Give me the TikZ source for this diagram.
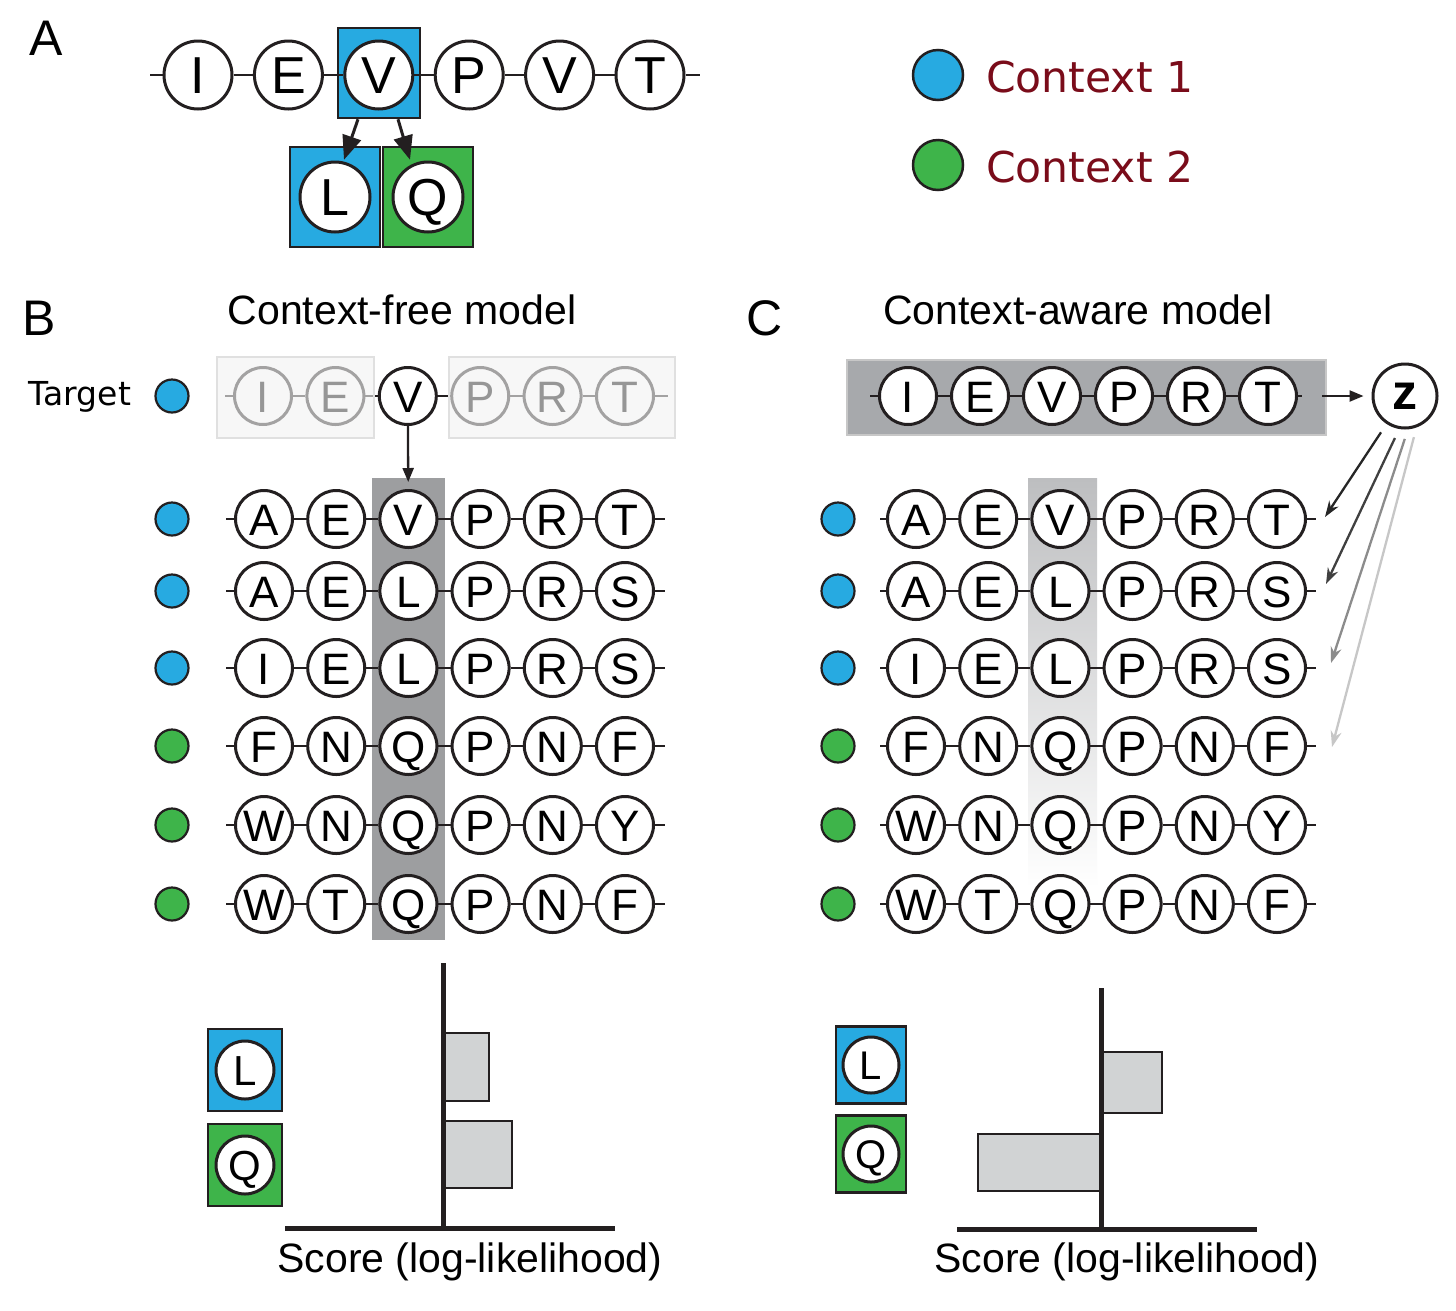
\documentclass[tikz,border=0pt]{standalone}
\usepackage{fontspec}
\setmainfont{Liberation Sans}
\newfontfamily\dvs{DejaVu Sans}
\usetikzlibrary{arrows.meta,calc}
\definecolor{cblue}{RGB}{39,170,225}
\definecolor{cgreen}{RGB}{62,180,74}
\definecolor{cred}{RGB}{122,12,26}
\definecolor{ink}{RGB}{35,31,32}
\definecolor{colB}{RGB}{157,158,160}
\definecolor{colC}{RGB}{189,190,192}
\definecolor{boxC}{RGB}{167,169,172}
\definecolor{barfill}{RGB}{209,211,212}
\definecolor{fadebox}{RGB}{243,243,243}
\tikzset{
  aa/.style={circle, draw=ink, line width=3pt, fill=white, minimum size=57pt, inner sep=0pt,
    font=\fontsize{44}{44}\selectfont, text height=32pt, text depth=0pt},
  aabig/.style={aa, minimum size=68pt, font=\fontsize{52}{52}\selectfont, text height=37pt},
  aabox/.style={aa, minimum size=70pt, font=\fontsize{52}{52}\selectfont, text height=37pt},
  aasmall/.style={aa, minimum size=58pt, font=\fontsize{42}{42}\selectfont, text height=30pt},
  chainln/.style={draw=ink, line width=2.8pt},
  dotb/.style={circle, draw=ink, line width=2.2pt, fill=cblue, minimum size=33pt, inner sep=0pt},
  dotg/.style={circle, draw=ink, line width=2.2pt, fill=cgreen, minimum size=33pt, inner sep=0pt},
  legdot/.style={circle, draw=ink, line width=2.5pt, minimum size=50pt, inner sep=0pt},
  sqbox/.style={rectangle, draw=ink, line width=2.5pt, inner sep=0pt},
  barr/.style={fill=barfill, draw=ink, line width=2.5pt},
  axisln/.style={draw=ink, line width=5pt},
  panel/.style={font=\fontsize{50}{50}\selectfont, inner sep=0pt},
  ttl/.style={font=\fontsize{41}{41}\selectfont, inner sep=0pt},
  arrA/.style={-{Triangle[length=24pt,width=19pt]}, line width=3pt, draw=ink},
  arrB/.style={-{Triangle[length=14pt,width=11pt]}, line width=2.3pt, draw=ink},
  zarr/.style={-{Stealth[length=16pt,width=11pt]}, line width=2.3pt, shorten <=10pt},
}
\begin{document}
\begin{tikzpicture}[x=1pt,y=-1pt]
\useasboundingbox[fill=white] (0,0) rectangle (1456,1310);

% ---------------- Panel A ----------------
\node[panel] (labA) at (46,38) {A};
\node[sqbox, fill=cblue, minimum width=82pt, minimum height=90pt] (avbox) at (379,73) {};
\node[sqbox, fill=cblue, minimum width=90pt, minimum height=100pt] (lbox) at (335,197) {};
\node[sqbox, fill=cgreen, minimum width=90pt, minimum height=100pt] (qbox) at (428,197) {};
\coordinate (aL) at (150,75);
\coordinate (aR) at (700,75);
\foreach \l [count=\i] in {I,E,V,P,V,T} {
  \node[aabig] (a-\i) at ({198+90.4*(\i-1)},75) {\l};
}
\draw[chainln] (aL) -- (a-1);
\draw[chainln] (a-6) -- (aR);
\foreach \i [evaluate=\i as \j using int(\i+1)] in {1,...,5} {
  \draw[chainln] (a-\i) -- (a-\j);
}
\node[aabox] (lc) at (lbox.center) {L};
\node[aabox] (qc) at (qbox.center) {Q};
\draw[arrA] ($(avbox.south)+(-21,0)$) -- ($(lbox.north)+(9,14)$);
\draw[arrA] ($(avbox.south)+(19,0)$) -- ($(qbox.north)+(-18,14)$);

% legend
\node[legdot, fill=cblue] (leg1) at (938,75) {};
\node[legdot, fill=cgreen] (leg2) at (938,165) {};
\node[anchor=west, inner sep=0pt, text=cred, font=\dvs\fontsize{42.5}{42.5}\selectfont] (legt1) at (986,77) {Context 1};
\node[anchor=west, inner sep=0pt, text=cred, font=\dvs\fontsize{42.5}{42.5}\selectfont] (legt2) at (986,167) {Context 2};

% ---------------- Panel B ----------------
\node[panel] (labB) at (39,318) {B};
\node[ttl] (ttlB) at (402,310) {Context-free model};
\node[inner sep=0pt, font=\dvs\fontsize{33}{33}\selectfont] (target) at (80,397) {Target};
\node[dotb] (tdot) at (172,396) {};

% target row
\coordinate (tL) at (225,396);
\coordinate (tR) at (668,396);
\foreach \l [count=\i] in {I,E,V,P,R,T} {
  \node[aa] (t-\i) at ({263+72.4*(\i-1)},396) {\l};
}
\draw[chainln] (tL) -- (t-1);
\draw[chainln] (t-6) -- (tR);
\foreach \i [evaluate=\i as \j using int(\i+1)] in {1,...,5} {
  \draw[chainln] (t-\i) -- (t-\j);
}
\fill[fadebox, fill opacity=0.62, draw=black!12, draw opacity=1, line width=1.2pt] (217,357) rectangle (374,438);
\fill[fadebox, fill opacity=0.62, draw=black!12, draw opacity=1, line width=1.2pt] (449,357) rectangle (675,438);

% column highlight
\fill[colB] (372,478) rectangle (445,940);

\foreach \r/\yy/\dt/\lets in {1/519/dotb/{A,E,V,P,R,T}, 2/591/dotb/{A,E,L,P,R,S}, 3/668/dotb/{I,E,L,P,R,S},
                             4/746/dotg/{F,N,Q,P,N,F}, 5/825/dotg/{W,N,Q,P,N,Y}, 6/904/dotg/{W,T,Q,P,N,F}} {
  \node[\dt] (bd\r) at (172,\yy) {};
  \coordinate (bL\r) at (226,\yy);
  \coordinate (bR\r) at (665,\yy);
  \foreach \l [count=\i] in \lets {
    \node[aa] (b\r-\i) at ({264+72.2*(\i-1)},\yy) {\l};
  }
  \draw[chainln] (bL\r) -- (b\r-1);
  \draw[chainln] (b\r-6) -- (bR\r);
  \foreach \i [evaluate=\i as \j using int(\i+1)] in {1,...,5} {
    \draw[chainln] (b\r-\i) -- (b\r-\j);
  }
}
\draw[arrB, shorten >=7pt] (t-3) -- (b1-3);

% bar chart B
\node[sqbox, fill=cblue, minimum width=74pt, minimum height=82pt] (bLbox) at (245,1070) {};
\node[sqbox, fill=cgreen, minimum width=74pt, minimum height=82pt] (bQbox) at (245,1165) {};
\node[aasmall] (bLc) at (bLbox.center) {L};
\node[aasmall] (bQc) at (bQbox.center) {Q};
\draw[barr] (443,1033) rectangle (489,1101);
\draw[barr] (443,1121) rectangle (512,1188);
\draw[axisln] (443,963) -- (443,1230);
\draw[axisln] (285,1228) -- (615,1228);
\node[ttl] (scoreB) at (470,1262) {Score (log-likelihood)};

% ---------------- Panel C ----------------
\node[panel] (labC) at (765,318) {C};
\node[ttl] (ttlC) at (1078,310) {Context-aware model};
\fill[boxC, draw=black!22, line width=1.5pt] (847,360) rectangle (1326,435);
\coordinate (cL0) at (870,396);
\coordinate (cR0) at (1302,396);
\foreach \l [count=\i] in {I,E,V,P,R,T} {
  \node[aa] (ct-\i) at ({908+72*(\i-1)},396) {\l};
}
\draw[chainln] (cL0) -- (ct-1);
\draw[chainln] (ct-6) -- (cR0);
\foreach \i [evaluate=\i as \j using int(\i+1)] in {1,...,5} {
  \draw[chainln] (ct-\i) -- (ct-\j);
}
\node[aa, minimum size=64pt, font=\fontsize{50}{50}\bfseries\selectfont, text height=26pt] (z) at (1405,396) {z};
\coordinate (zin) at (1322,396);
\draw[arrB, shorten >=8pt] (zin) -- (z);

\shade[top color=colC, bottom color=white] (1028,478) rectangle (1097,888);

\foreach \r/\yy/\dt/\lets in {1/519/dotb/{A,E,V,P,R,T}, 2/591/dotb/{A,E,L,P,R,S}, 3/668/dotb/{I,E,L,P,R,S},
                             4/746/dotg/{F,N,Q,P,N,F}, 5/825/dotg/{W,N,Q,P,N,Y}, 6/904/dotg/{W,T,Q,P,N,F}} {
  \node[\dt] (cd\r) at (838,\yy) {};
  \coordinate (cL\r) at (880,\yy);
  \coordinate (cR\r) at (1316,\yy);
  \foreach \l [count=\i] in \lets {
    \node[aa] (c\r-\i) at ({916+72.2*(\i-1)},\yy) {\l};
  }
  \draw[chainln] (cL\r) -- (c\r-1);
  \draw[chainln] (c\r-6) -- (cR\r);
  \foreach \i [evaluate=\i as \j using int(\i+1)] in {1,...,5} {
    \draw[chainln] (c\r-\i) -- (c\r-\j);
  }
}
% arrows from z
\coordinate (zt1) at (1325,517);
\coordinate (zt2) at (1326,584);
\coordinate (zt3) at (1331,663);
\coordinate (zt4) at (1332,747);
\draw[zarr, draw=black!85] (z) -- (zt1);
\draw[zarr, draw=black!75] (z.-100) -- (zt2);
\draw[zarr, draw=black!45] (z.-85) -- (zt3);
\draw[zarr, draw=black!22] (z.-70) -- (zt4);

% bar chart C
\node[sqbox, fill=cblue, minimum width=70pt, minimum height=77pt] (cLbox) at (871,1065) {};
\node[sqbox, fill=cgreen, minimum width=70pt, minimum height=77pt] (cQbox) at (871,1154) {};
\node[aasmall, minimum size=56pt, font=\fontsize{40}{40}\selectfont, text height=29pt] (cLc) at (cLbox.center) {L};
\node[aasmall, minimum size=56pt, font=\fontsize{40}{40}\selectfont, text height=29pt] (cQc) at (cQbox.center) {Q};
\draw[barr] (1101,1052) rectangle (1162,1113);
\draw[barr] (978,1134) rectangle (1101,1191);
\draw[axisln] (1101,988) -- (1101,1231);
\draw[axisln] (957,1229) -- (1257,1229);
\node[ttl] (scoreC) at (1127,1262) {Score (log-likelihood)};
\end{tikzpicture}
\end{document}
